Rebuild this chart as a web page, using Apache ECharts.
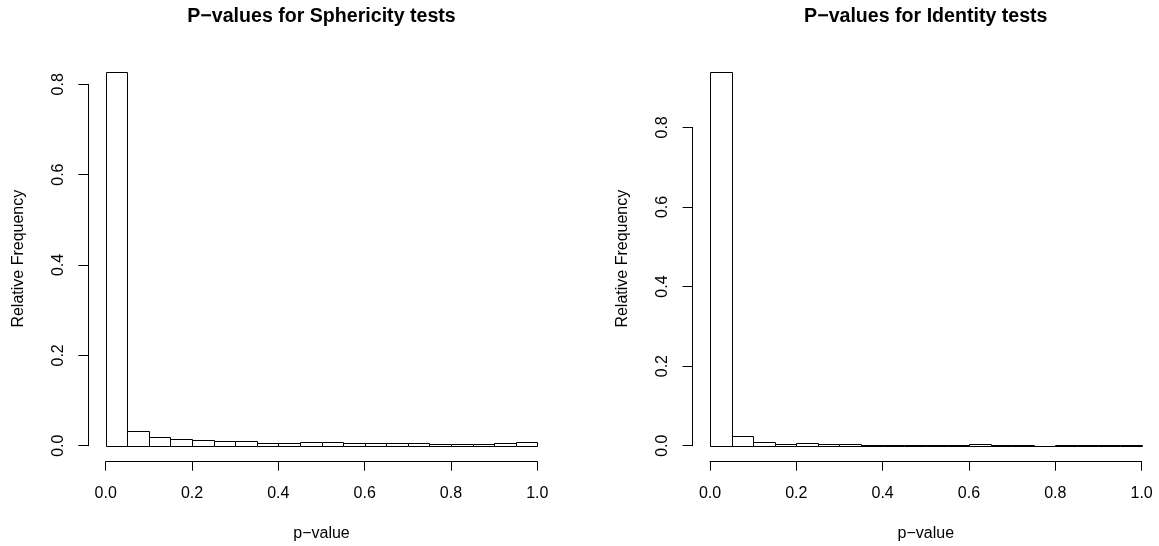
<!DOCTYPE html>
<html>
<head>
<meta charset="utf-8">
<script src="https://cdn.jsdelivr.net/npm/echarts@6/dist/echarts.min.js"></script>
<style>html,body{margin:0;padding:0;background:#fff;}#c{width:1159px;height:546px;}</style>
</head>
<body>
<div id="c"></div>
<script>
// Bin starts (width 0.05)
const binStart = [0.00,0.05,0.10,0.15,0.20,0.25,0.30,0.35,0.40,0.45,0.50,0.55,0.60,0.65,0.70,0.75,0.80,0.85,0.90,0.95];
const binWidth = 0.05;
// Relative frequencies
const sphericity = [0.828,0.033,0.019,0.0148,0.0118,0.0096,0.0103,0.0059,0.0066,0.0074,0.0074,0.0059,0.0059,0.0052,0.0059,0.0044,0.0044,0.0044,0.0059,0.0074];
const identity = [0.940,0.0235,0.0084,0.0042,0.0067,0.0034,0.0042,0.0010,0.0017,0.0025,0.0010,0.0010,0.0042,0.0010,0.0010,0.0005,0.0010,0.0010,0.0010,0.0010];
const xTicks = [0.0,0.2,0.4,0.6,0.8,1.0];
const yTicks = [0.0,0.2,0.4,0.6,0.8];
const titles = ['P\u2212values for Sphericity tests','P\u2212values for Identity tests'];
const xName = 'p\u2212value';
const yName = 'Relative Frequency';

const FONT = '"Liberation Sans", Arial, Helvetica, sans-serif';
const chart = echarts.init(document.getElementById('c'), null, {renderer:'canvas'});

function hist(vals){ return binStart.map((s,i)=>[s, s+binWidth, vals[i]]); }

function renderItem(params, api){
  const x0 = api.value(0), x1 = api.value(1), y = api.value(2);
  const p0 = api.coord([x0, y]);
  const p1 = api.coord([x1, 0]);
  return {
    type:'rect',
    shape:{x:Math.round(p0[0])+0.5, y:Math.round(p0[1])+0.5, width:Math.round(p1[0])-Math.round(p0[0]), height:Math.round(p1[1])-Math.round(p0[1])},
    style:{fill:'#fff', stroke:'#000', lineWidth:1}
  };
}

const panels = [
  {left:105.7, dataTop:61.7, dataH:384, dataMax:0.85, axisTop:84.3, axisH:361.4, vals:sphericity},
  {left:710, dataTop:67.7, dataH:378, dataMax:0.95, axisTop:127.4, axisH:318.3, vals:identity}
];
const W = 431.6;

const grid=[], xAxis=[], yAxis=[], series=[], graphic=[];
panels.forEach((p,k)=>{
  const gi = grid.length;
  grid.push({left:p.left, top:p.dataTop, width:W, height:p.dataH, containLabel:false});
  grid.push({left:p.left, top:p.axisTop, width:W, height:p.axisH, containLabel:false});
  xAxis.push({
    gridIndex:gi, type:'value', min:xTicks[0], max:xTicks[xTicks.length-1], interval:0.2,
    offset:16, splitLine:{show:false},
    axisLine:{show:true, onZero:false, lineStyle:{color:'#000', width:1}},
    axisTick:{show:true, inside:false, length:9, lineStyle:{color:'#000', width:1}},
    axisLabel:{show:true, margin:24, color:'#000', fontSize:16, fontFamily:FONT, showMinLabel:true, showMaxLabel:true, formatter:v=>v.toFixed(1)}
  });
  xAxis.push({gridIndex:gi+1, type:'value', min:0, max:1, show:false});
  yAxis.push({gridIndex:gi, type:'value', min:0, max:p.dataMax, show:false});
  yAxis.push({
    gridIndex:gi+1, type:'value', min:yTicks[0], max:yTicks[yTicks.length-1], interval:0.2,
    offset:17.4, splitLine:{show:false},
    axisLine:{show:true, onZero:false, lineStyle:{color:'#000', width:1}},
    axisTick:{show:true, inside:false, length:10, lineStyle:{color:'#000', width:1}},
    axisLabel:{show:true, rotate:90, margin:22, color:'#000', fontSize:16, fontFamily:FONT, showMinLabel:true, showMaxLabel:true, formatter:v=>v.toFixed(1)}
  });
  series.push({type:'custom', xAxisIndex:gi, yAxisIndex:gi, renderItem:renderItem, data:hist(p.vals), silent:true, animation:false, clip:false});
  const cx = p.left + W/2;
  graphic.push({type:'text', x:cx, y:17, style:{text:titles[k], fill:'#000', font:'bold 19.6px '+FONT, textAlign:'center', textVerticalAlign:'middle'}});
  graphic.push({type:'text', x:cx, y:534, style:{text:xName, fill:'#000', font:'16px '+FONT, textAlign:'center', textVerticalAlign:'middle'}});
  graphic.push({type:'text', x:p.left-17.4-70, y:258.7, rotation:Math.PI/2, style:{text:yName, fill:'#000', font:'16px '+FONT, textAlign:'center', textVerticalAlign:'middle'}});
});

chart.setOption({animation:false, backgroundColor:'#fff', grid, xAxis, yAxis, series, graphic});
</script>
</body>
</html>
